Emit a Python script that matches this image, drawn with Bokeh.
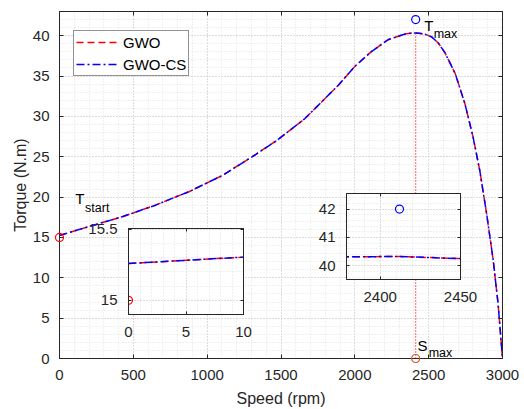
from bokeh.plotting import figure
from bokeh.models import (Range1d, LinearAxis, SingleIntervalTicker, Legend, LegendItem,
                          ColumnDataSource, Label, CustomJSTickFormatter)
from bokeh.embed import file_html
from bokeh.resources import INLINE

# ---------------- data ----------------
speed = [0, 10, 200, 430, 650, 880, 1105, 1330, 1470, 1660, 1770, 1890, 2000, 2110,
         2225, 2340, 2380, 2412, 2448, 2480, 2520, 2565, 2610, 2680, 2745, 2800, 2846,
         2892, 2937, 2970, 3000]
torque_gwo = [15.26, 15.305, 16.35, 17.6, 19.0, 20.7, 22.7, 25.3, 27.0, 29.7, 31.7, 33.9,
              36.2, 38.0, 39.5, 40.22, 40.32, 40.33, 40.26, 40.15, 39.85, 39.1, 37.9, 35.3,
              31.6, 27.5, 23.3, 18.0, 12.2, 6.8, 0.0]
torque_gwocs = [15.26, 15.305, 16.35, 17.6, 19.0, 20.7, 22.7, 25.3, 27.0, 29.7, 31.7, 33.9,
                36.2, 38.0, 39.5, 40.22, 40.32, 40.33, 40.26, 40.15, 39.85, 39.1, 37.9, 35.3,
                31.6, 27.5, 23.3, 18.0, 12.2, 6.8, 0.0]

tstart_speed = [0]
tstart_torque = [15.0]
tmax_speed = [2412]
tmax_torque = [42.0]
smax_speed = [2412]
smax_torque = [0.0]
peak_torque = [max(torque_gwocs)]

series_names = ["GWO", "GWO-CS"]

X_MIN, X_MAX = 0, 3000
Y_MIN, Y_MAX = 0, 43

FONT = "Liberation Sans"
AX = "#262626"
RED = "#ff0000"
BLUE = "#0000ff"
ORANGE = "#d95319"

# main frame geometry (px)
FW, FH = 443, 347
BL, BT, BR, BB = 59, 11, 21, 51

src = ColumnDataSource(data=dict(speed=speed, gwo=torque_gwo, gwocs=torque_gwocs))
blank = CustomJSTickFormatter(code="return ''")


def style(fig, xt, yt, tick_len):
    fig.xaxis.ticker = xt
    fig.yaxis.ticker = yt
    fig.add_layout(LinearAxis(ticker=xt, formatter=blank), "above")
    fig.add_layout(LinearAxis(ticker=yt, formatter=blank), "right")
    for ax in fig.axis:
        ax.axis_line_color = AX
        ax.major_tick_line_color = AX
        ax.major_tick_in = tick_len
        ax.major_tick_out = 0
        ax.minor_tick_line_color = None
        ax.major_label_text_font = FONT
        ax.major_label_text_font_size = "15px"
        ax.major_label_text_color = AX
        ax.axis_label_text_font = FONT
        ax.axis_label_text_font_size = "16px"
        ax.axis_label_text_font_style = "normal"
        ax.axis_label_text_color = AX
    for ax in fig.above + fig.right:
        ax.major_label_text_font_size = "1px"
        ax.major_label_standoff = 0
    for g in fig.grid:
        g.grid_line_color = "#c8c8c8"
        g.grid_line_dash = "1 2"
        g.minor_grid_line_color = "#e0e0e0"
        g.minor_grid_line_dash = "1 2"
    fig.outline_line_color = AX
    fig.background_fill_color = "white"


def curves(fig):
    r1 = fig.line("speed", "gwo", source=src, line_color=RED, line_width=1.5,
                  line_dash="7 4")
    r2 = fig.line("speed", "gwocs", source=src, line_color=BLUE, line_width=1.5,
                  line_dash="8 3 2 3")
    return r1, r2


# ---------------- main figure ----------------
p = figure(frame_width=FW, frame_height=FH, x_range=Range1d(X_MIN, X_MAX),
           y_range=Range1d(Y_MIN, Y_MAX), output_backend="svg", toolbar_location=None,
           min_border_left=BL, min_border_right=BR, min_border_top=BT, min_border_bottom=BB)
style(p, SingleIntervalTicker(interval=500, num_minor_ticks=5),
      SingleIntervalTicker(interval=5, num_minor_ticks=5), 4)
p.below[0].axis_label = "Speed (rpm)"
p.left[0].axis_label = "Torque (N.m)"
p.below[0].major_label_standoff = 7
p.left[0].major_label_standoff = 6
p.below[0].axis_label_standoff = 7
p.left[0].axis_label_standoff = 1

p.segment(x0=smax_speed, y0=smax_torque, x1=smax_speed, y1=peak_torque,
          line_color=RED, line_width=1.2, line_dash="1 2")
r1, r2 = curves(p)

legend = Legend(items=[LegendItem(label=series_names[0], renderers=[r1]),
                       LegendItem(label=series_names[1], renderers=[r2])],
                location=(14, 282), border_line_color=AX, border_line_width=1,
                background_fill_color="white", background_fill_alpha=1,
                label_text_font=FONT, label_text_font_size="15px", label_text_color="black",
                glyph_width=41, glyph_height=18, label_height=18, spacing=4, padding=2,
                margin=0, label_standoff=6)
p.add_layout(legend, "center")


def lab(fig, x, y, text, size):
    fig.add_layout(Label(x=x, y=y, text=text, text_font=FONT, text_font_size=size,
                         text_color="black", text_align="left", text_baseline="alphabetic"))


lab(p, 106, 19.8, "T", "15px")
lab(p, 173, 18.7, "start", "12.5px")
lab(p, 2470, 41.27, "T", "15px")
lab(p, 2534, 40.15, "max", "12.5px")
lab(p, 2425, 1.65, "S", "15px")
lab(p, 2500, 0.72, "max", "12.5px")

# ---------------- marker overlay (markers not clipped at the frame edge) ----------------
PAD = 8
dx = PAD * (X_MAX - X_MIN) / FW
dy = PAD * (Y_MAX - Y_MIN) / FH
ov = figure(frame_width=FW + 2 * PAD, frame_height=FH + 2 * PAD,
            x_range=Range1d(X_MIN - dx, X_MAX + dx), y_range=Range1d(Y_MIN - dy, Y_MAX + dy),
            output_backend="svg", toolbar_location=None, x_axis_location=None,
            y_axis_location=None, min_border=0)
ov.grid.visible = False
ov.outline_line_color = None
ov.background_fill_color = None
ov.border_fill_color = None
ov.scatter(tstart_speed, tstart_torque, size=8, fill_color=None, line_color=RED, line_width=1.2)
ov.scatter(tmax_speed, tmax_torque, size=8, fill_color=None, line_color=BLUE, line_width=1.2)
ov.scatter(smax_speed, smax_torque, size=8, fill_color=None, line_color=ORANGE, line_width=1.2)
ov.styles = {"position": "absolute", "left": f"{BL - PAD}px", "top": f"{BT - PAD}px"}

# ---------------- inset: start ----------------
fmt = CustomJSTickFormatter(code="return String(Math.round(tick*1000)/1000)")
i1 = figure(frame_width=115, frame_height=86, x_range=Range1d(0, 10), y_range=Range1d(14.9, 15.507),
            output_backend="svg", toolbar_location=None,
            min_border_left=50, min_border_right=14, min_border_top=12, min_border_bottom=30)
style(i1, SingleIntervalTicker(interval=5, num_minor_ticks=5),
      SingleIntervalTicker(interval=0.5, num_minor_ticks=5), 3)
i1.left[0].formatter = fmt
i1.below[0].major_label_standoff = 8
i1.left[0].major_label_standoff = 7
i1.border_fill_color = None
curves(i1)
i1.scatter(tstart_speed, tstart_torque, size=8, fill_color=None, line_color=RED, line_width=1.2)
i1.styles = {"position": "absolute", "left": "78px", "top": "216px"}

# ---------------- inset: max ----------------
i2 = figure(frame_width=114, frame_height=86, x_range=Range1d(2379, 2450), y_range=Range1d(39.52, 42.55),
            output_backend="svg", toolbar_location=None,
            min_border_left=32, min_border_right=22, min_border_top=4, min_border_bottom=30)
style(i2, SingleIntervalTicker(interval=50, num_minor_ticks=5),
      SingleIntervalTicker(interval=1, num_minor_ticks=5), 3)
i2.below[0].major_label_standoff = 8
i2.left[0].major_label_standoff = 7
i2.border_fill_color = None
curves(i2)
i2.scatter(tmax_speed, tmax_torque, size=8, fill_color=None, line_color=BLUE, line_width=1.2)
i2.styles = {"position": "absolute", "left": "314px", "top": "189px"}

open("out.html", "w").write(file_html([p, ov, i1, i2], INLINE))
